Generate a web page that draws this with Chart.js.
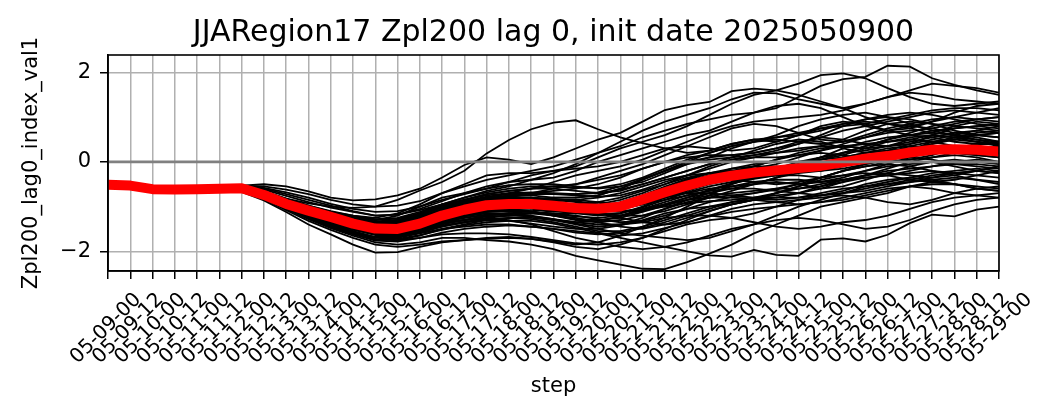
<!DOCTYPE html>
<html>
<head>
<meta charset="utf-8">
<script src="https://cdn.jsdelivr.net/npm/chart.js@4.4.1/dist/chart.umd.min.js"></script>
<style>
  html, body { margin: 0; padding: 0; background: #fff; }
  #wrap { width: 1057px; height: 420px; }
</style>
</head>
<body>
<div id="wrap"><canvas id="chart" width="1057" height="420" style="width:1057px;height:420px"></canvas></div>
<script>
const steps = ['05-09-00','05-09-12','05-10-00','05-10-12','05-11-00','05-11-12','05-12-00','05-12-12','05-13-00','05-13-12',
  '05-14-00','05-14-12','05-15-00','05-15-12','05-16-00','05-16-12','05-17-00','05-17-12','05-18-00','05-18-12',
  '05-19-00','05-19-12','05-20-00','05-20-12','05-21-00','05-21-12','05-22-00','05-22-12','05-23-00','05-23-12',
  '05-24-00','05-24-12','05-25-00','05-25-12','05-26-00','05-26-12','05-27-00','05-27-12','05-28-00','05-28-12','05-29-00'];
const yTickValues = [-2, 0, 2];
const zeroLevel = 0;

// ensemble mean (red)
const ensembleMean = [-0.51,-0.53,-0.61,-0.62,-0.61,-0.6,-0.59,-0.74,-0.94,-1.09,
  -1.23,-1.38,-1.49,-1.5,-1.38,-1.2,-1.07,-0.97,-0.94,-0.94,
  -0.98,-1.03,-1.05,-1.0,-0.84,-0.68,-0.53,-0.4,-0.31,-0.24,
  -0.19,-0.14,-0.09,-0.01,0.07,0.13,0.21,0.27,0.28,0.27,0.23];

// ensemble members (black)
const ensembleMembers = [
  [-0.51,-0.52,-0.59,-0.59,-0.57,-0.55,-0.54,-0.66,-0.82,-0.93,-1.0,-1.03,-1.0,-0.85,-0.64,-0.45,-0.2,0.19,0.49,0.73,0.88,0.93,0.73,0.55,0.42,0.3,0.2,0.25,0.4,0.5,0.45,0.6,0.8,0.9,0.85,0.7,0.6,0.65,0.8,0.9,0.85],
  [-0.51,-0.52,-0.58,-0.57,-0.55,-0.53,-0.53,-0.5,-0.55,-0.66,-0.8,-0.86,-0.84,-0.75,-0.6,-0.35,-0.07,0.1,0.05,-0.05,0.1,0.3,0.5,0.65,0.9,1.16,1.27,1.34,1.58,1.64,1.6,1.5,1.35,1.2,1.0,0.85,0.8,0.9,1.0,1.1,1.2],
  [-0.51,-0.53,-0.61,-0.61,-0.6,-0.58,-0.57,-0.7,-0.88,-1.02,-1.12,-1.2,-1.25,-1.15,-0.95,-0.7,-0.55,-0.4,-0.3,-0.2,-0.1,0.05,0.2,0.35,0.55,0.7,0.85,0.95,1.05,1.1,1.2,1.45,1.7,1.85,1.9,2.15,2.13,1.87,1.72,1.6,1.5],
  [-0.51,-0.53,-0.6,-0.62,-0.61,-0.6,-0.58,-0.72,-0.9,-1.05,-1.15,-1.25,-1.3,-1.2,-1.0,-0.8,-0.7,-0.6,-0.45,-0.3,-0.2,-0.1,0.1,0.3,0.45,0.6,0.8,1.05,1.3,1.5,1.6,1.75,1.94,1.98,1.87,1.65,1.45,1.3,1.25,1.3,1.35],
  [-0.51,-0.52,-0.6,-0.61,-0.6,-0.59,-0.58,-0.72,-0.9,-1.05,-1.18,-1.28,-1.35,-1.3,-1.15,-0.95,-0.8,-0.65,-0.55,-0.4,-0.25,-0.05,0.2,0.45,0.7,0.9,1.05,1.2,1.4,1.55,1.53,1.4,1.3,1.2,1.3,1.45,1.6,1.75,1.7,1.65,1.55],
  [-0.51,-0.53,-0.61,-0.62,-0.6,-0.57,-0.55,-0.6,-0.72,-0.85,-0.98,-1.1,-1.2,-1.18,-1.05,-0.88,-0.7,-0.55,-0.45,-0.4,-0.35,-0.2,0.0,0.15,0.3,0.45,0.6,0.7,0.9,1.1,1.25,1.3,1.2,1.0,0.8,0.7,0.75,0.9,1.1,1.25,1.3],
  [-0.51,-0.54,-0.63,-0.65,-0.66,-0.66,-0.67,-0.86,-1.12,-1.4,-1.62,-1.85,-2.03,-2.02,-1.9,-1.8,-1.75,-1.7,-1.68,-1.72,-1.8,-1.9,-1.95,-1.85,-1.7,-1.5,-1.3,-1.1,-0.95,-0.85,-0.7,-0.6,-0.5,-0.4,-0.35,-0.3,-0.25,-0.2,-0.3,-0.4,-0.5],
  [-0.51,-0.54,-0.62,-0.64,-0.64,-0.64,-0.64,-0.82,-1.05,-1.28,-1.48,-1.65,-1.8,-1.85,-1.8,-1.7,-1.7,-1.75,-1.78,-1.85,-1.95,-2.1,-2.2,-2.3,-2.39,-2.4,-2.24,-2.05,-1.85,-1.6,-1.4,-1.2,-1.0,-0.9,-0.8,-0.7,-0.55,-0.45,-0.5,-0.6,-0.65],
  [-0.51,-0.53,-0.62,-0.63,-0.63,-0.62,-0.62,-0.79,-1.02,-1.22,-1.4,-1.55,-1.68,-1.7,-1.6,-1.5,-1.45,-1.4,-1.4,-1.45,-1.5,-1.55,-1.6,-1.7,-1.8,-1.9,-2.0,-2.09,-2.12,-1.97,-2.08,-2.1,-1.74,-1.71,-1.78,-1.63,-1.37,-1.18,-1.22,-1.07,-1.0],
  [-0.51,-0.53,-0.62,-0.63,-0.62,-0.61,-0.61,-0.78,-1.0,-1.2,-1.36,-1.5,-1.62,-1.62,-1.5,-1.35,-1.3,-1.25,-1.3,-1.4,-1.55,-1.7,-1.8,-1.9,-1.95,-1.9,-1.8,-1.65,-1.5,-1.4,-1.3,-1.25,-1.3,-1.4,-1.5,-1.45,-1.3,-1.1,-0.95,-0.85,-0.8],
  [-0.51,-0.53,-0.61,-0.62,-0.61,-0.6,-0.59,-0.74,-0.93,-1.1,-1.24,-1.37,-1.47,-1.45,-1.32,-1.15,-1.0,-0.85,-0.75,-0.7,-0.65,-0.6,-0.5,-0.35,-0.15,0.0,0.15,0.25,0.4,0.5,0.55,0.6,0.7,0.85,0.95,1.0,0.95,0.85,0.8,0.75,0.7],
  [-0.51,-0.52,-0.6,-0.61,-0.6,-0.59,-0.58,-0.72,-0.92,-1.08,-1.22,-1.35,-1.45,-1.48,-1.4,-1.28,-1.2,-1.1,-1.05,-1.05,-1.1,-1.15,-1.2,-1.15,-1.0,-0.8,-0.6,-0.45,-0.35,-0.3,-0.2,-0.05,0.1,0.2,0.25,0.35,0.5,0.6,0.55,0.45,0.4],
  [-0.51,-0.53,-0.61,-0.62,-0.62,-0.61,-0.6,-0.76,-0.97,-1.15,-1.32,-1.46,-1.58,-1.6,-1.5,-1.32,-1.2,-1.05,-0.95,-0.9,-0.85,-0.85,-0.9,-0.95,-0.9,-0.8,-0.7,-0.6,-0.55,-0.5,-0.45,-0.5,-0.6,-0.55,-0.4,-0.25,-0.1,0.0,0.05,0.0,-0.05],
  [-0.51,-0.53,-0.61,-0.62,-0.61,-0.6,-0.6,-0.75,-0.95,-1.12,-1.28,-1.42,-1.55,-1.55,-1.42,-1.25,-1.12,-1.0,-0.92,-0.85,-0.8,-0.8,-0.75,-0.6,-0.4,-0.2,0.0,0.1,0.15,0.2,0.3,0.45,0.55,0.5,0.4,0.35,0.4,0.5,0.6,0.55,0.45],
  [-0.51,-0.53,-0.62,-0.63,-0.62,-0.61,-0.61,-0.77,-0.98,-1.16,-1.32,-1.45,-1.55,-1.52,-1.4,-1.25,-1.15,-1.05,-1.05,-1.1,-1.2,-1.3,-1.35,-1.3,-1.2,-1.05,-0.9,-0.8,-0.75,-0.7,-0.6,-0.5,-0.45,-0.35,-0.2,-0.1,-0.05,0.0,-0.1,-0.2,-0.25],
  [-0.51,-0.52,-0.6,-0.6,-0.59,-0.56,-0.54,-0.62,-0.76,-0.9,-1.02,-1.12,-1.2,-1.18,-1.08,-0.95,-0.85,-0.72,-0.65,-0.6,-0.6,-0.65,-0.7,-0.65,-0.5,-0.35,-0.2,-0.05,0.1,0.25,0.4,0.5,0.45,0.3,0.2,0.25,0.4,0.6,0.75,0.8,0.75],
  [-0.51,-0.53,-0.62,-0.63,-0.63,-0.62,-0.62,-0.78,-1.0,-1.18,-1.35,-1.5,-1.62,-1.65,-1.55,-1.4,-1.3,-1.2,-1.15,-1.15,-1.2,-1.25,-1.35,-1.45,-1.5,-1.4,-1.25,-1.1,-0.95,-0.85,-0.8,-0.8,-0.75,-0.65,-0.5,-0.4,-0.35,-0.4,-0.5,-0.6,-0.65],
  [-0.51,-0.53,-0.61,-0.62,-0.6,-0.59,-0.58,-0.73,-0.92,-1.08,-1.22,-1.34,-1.44,-1.42,-1.3,-1.12,-0.98,-0.85,-0.8,-0.8,-0.85,-0.9,-0.95,-0.85,-0.7,-0.5,-0.3,-0.1,0.05,0.15,0.2,0.25,0.35,0.5,0.7,0.85,0.9,0.85,0.7,0.6,0.55],
  [-0.51,-0.54,-0.63,-0.64,-0.64,-0.63,-0.63,-0.8,-1.04,-1.25,-1.44,-1.6,-1.74,-1.75,-1.65,-1.5,-1.4,-1.3,-1.25,-1.25,-1.3,-1.4,-1.5,-1.6,-1.65,-1.7,-1.75,-1.7,-1.55,-1.4,-1.2,-1.0,-0.85,-0.7,-0.55,-0.45,-0.35,-0.25,-0.2,-0.15,-0.2],
  [-0.51,-0.53,-0.61,-0.61,-0.6,-0.57,-0.55,-0.58,-0.68,-0.8,-0.94,-1.05,-1.12,-1.1,-1.0,-0.85,-0.72,-0.6,-0.52,-0.5,-0.5,-0.55,-0.6,-0.55,-0.45,-0.25,-0.05,0.1,0.3,0.45,0.6,0.8,0.95,1.05,1.1,1.0,0.85,0.7,0.6,0.5,0.4],
  [-0.51,-0.53,-0.62,-0.63,-0.62,-0.62,-0.61,-0.77,-0.98,-1.15,-1.3,-1.43,-1.53,-1.52,-1.42,-1.28,-1.2,-1.12,-1.1,-1.12,-1.18,-1.22,-1.25,-1.2,-1.05,-0.9,-0.75,-0.65,-0.6,-0.6,-0.65,-0.7,-0.75,-0.7,-0.6,-0.5,-0.45,-0.35,-0.25,-0.2,-0.25],
  [-0.51,-0.53,-0.61,-0.62,-0.61,-0.6,-0.59,-0.74,-0.95,-1.12,-1.27,-1.4,-1.5,-1.5,-1.4,-1.25,-1.15,-1.05,-1.0,-0.95,-0.95,-0.95,-0.9,-0.8,-0.65,-0.5,-0.35,-0.25,-0.2,-0.1,0.05,0.2,0.3,0.35,0.3,0.2,0.15,0.2,0.3,0.35,0.3],
  [-0.51,-0.53,-0.62,-0.62,-0.61,-0.61,-0.6,-0.75,-0.95,-1.13,-1.29,-1.43,-1.55,-1.58,-1.5,-1.38,-1.3,-1.2,-1.15,-1.1,-1.05,-1.0,-1.0,-0.95,-0.85,-0.7,-0.55,-0.45,-0.4,-0.45,-0.5,-0.45,-0.35,-0.2,-0.05,0.05,0.1,0.05,-0.05,-0.1,-0.15],
  [-0.51,-0.52,-0.6,-0.61,-0.6,-0.59,-0.58,-0.72,-0.91,-1.07,-1.2,-1.32,-1.42,-1.4,-1.28,-1.1,-0.95,-0.82,-0.75,-0.75,-0.8,-0.8,-0.75,-0.6,-0.4,-0.2,0.0,0.2,0.35,0.45,0.5,0.45,0.4,0.45,0.6,0.75,0.85,0.95,1.0,0.95,0.9],
  [-0.51,-0.54,-0.63,-0.64,-0.63,-0.63,-0.62,-0.79,-1.02,-1.22,-1.4,-1.56,-1.68,-1.68,-1.58,-1.44,-1.35,-1.28,-1.25,-1.28,-1.35,-1.45,-1.55,-1.55,-1.45,-1.3,-1.15,-1.0,-0.9,-0.85,-0.9,-0.95,-0.9,-0.8,-0.7,-0.6,-0.55,-0.6,-0.7,-0.75,-0.7],
  [-0.51,-0.53,-0.61,-0.62,-0.61,-0.6,-0.59,-0.74,-0.94,-1.1,-1.25,-1.38,-1.48,-1.46,-1.35,-1.2,-1.1,-0.98,-0.92,-0.9,-0.88,-0.85,-0.8,-0.7,-0.55,-0.4,-0.3,-0.25,-0.25,-0.3,-0.3,-0.2,-0.05,0.1,0.2,0.3,0.35,0.3,0.2,0.15,0.1],
  [-0.51,-0.53,-0.62,-0.63,-0.63,-0.62,-0.62,-0.78,-1.0,-1.19,-1.36,-1.51,-1.64,-1.66,-1.58,-1.45,-1.35,-1.25,-1.2,-1.15,-1.1,-1.1,-1.15,-1.2,-1.2,-1.1,-0.95,-0.8,-0.65,-0.5,-0.35,-0.25,-0.2,-0.15,-0.05,0.05,0.15,0.25,0.35,0.3,0.2],
  [-0.51,-0.53,-0.61,-0.61,-0.6,-0.59,-0.58,-0.72,-0.91,-1.06,-1.2,-1.32,-1.4,-1.37,-1.25,-1.08,-0.95,-0.85,-0.85,-0.9,-0.95,-1.05,-1.15,-1.2,-1.1,-0.95,-0.8,-0.7,-0.6,-0.5,-0.35,-0.2,-0.1,-0.05,0.0,0.1,0.25,0.45,0.55,0.6,0.55],
  [-0.51,-0.53,-0.62,-0.63,-0.62,-0.61,-0.61,-0.77,-0.99,-1.17,-1.33,-1.47,-1.58,-1.57,-1.45,-1.3,-1.18,-1.08,-1.02,-1.0,-1.02,-1.08,-1.15,-1.25,-1.35,-1.4,-1.35,-1.2,-1.05,-0.95,-0.9,-0.85,-0.8,-0.75,-0.8,-0.9,-0.95,-0.85,-0.7,-0.6,-0.55],
  [-0.51,-0.52,-0.6,-0.61,-0.6,-0.58,-0.57,-0.71,-0.89,-1.04,-1.17,-1.28,-1.36,-1.32,-1.18,-1.0,-0.85,-0.72,-0.65,-0.6,-0.55,-0.5,-0.4,-0.3,-0.15,0.0,0.1,0.15,0.15,0.2,0.3,0.4,0.55,0.7,0.8,0.9,1.0,1.1,1.15,1.1,1.05],
  [-0.51,-0.53,-0.62,-0.63,-0.62,-0.61,-0.6,-0.76,-0.97,-1.15,-1.31,-1.45,-1.56,-1.56,-1.46,-1.3,-1.2,-1.12,-1.1,-1.12,-1.15,-1.15,-1.1,-1.0,-0.85,-0.75,-0.7,-0.7,-0.75,-0.8,-0.8,-0.7,-0.55,-0.4,-0.3,-0.25,-0.3,-0.35,-0.3,-0.2,-0.1],
  [-0.51,-0.53,-0.61,-0.62,-0.61,-0.6,-0.6,-0.75,-0.95,-1.12,-1.28,-1.41,-1.52,-1.52,-1.42,-1.26,-1.15,-1.05,-1.0,-1.0,-1.05,-1.1,-1.1,-1.0,-0.85,-0.65,-0.45,-0.3,-0.15,-0.05,0.0,0.0,0.05,0.15,0.3,0.45,0.55,0.6,0.55,0.5,0.45],
  [-0.51,-0.54,-0.63,-0.65,-0.65,-0.65,-0.65,-0.83,-1.08,-1.32,-1.52,-1.7,-1.85,-1.9,-1.85,-1.78,-1.75,-1.72,-1.7,-1.72,-1.78,-1.85,-1.8,-1.65,-1.45,-1.25,-1.0,-0.75,-0.5,-0.3,-0.15,0.0,0.1,0.2,0.35,0.5,0.65,0.8,0.9,0.95,1.0],
  [-0.51,-0.52,-0.6,-0.61,-0.6,-0.59,-0.58,-0.73,-0.92,-1.08,-1.22,-1.33,-1.42,-1.38,-1.25,-1.05,-0.9,-0.8,-0.7,-0.6,-0.45,-0.3,-0.2,-0.1,0.05,0.25,0.45,0.65,0.8,0.9,0.95,1.0,1.05,1.15,1.3,1.45,1.55,1.5,1.4,1.35,1.3],
  [-0.51,-0.53,-0.62,-0.63,-0.62,-0.62,-0.61,-0.77,-0.99,-1.18,-1.34,-1.48,-1.6,-1.62,-1.52,-1.38,-1.3,-1.22,-1.2,-1.22,-1.28,-1.35,-1.4,-1.4,-1.35,-1.25,-1.2,-1.2,-1.25,-1.35,-1.45,-1.5,-1.45,-1.35,-1.3,-1.2,-1.05,-0.9,-0.8,-0.75,-0.8],
  [-0.51,-0.53,-0.61,-0.62,-0.61,-0.6,-0.59,-0.74,-0.93,-1.09,-1.23,-1.36,-1.46,-1.44,-1.32,-1.15,-1.02,-0.9,-0.8,-0.7,-0.6,-0.5,-0.35,-0.2,-0.05,0.15,0.35,0.55,0.75,0.85,0.8,0.65,0.5,0.45,0.55,0.7,0.8,0.75,0.65,0.6,0.65],
  [-0.51,-0.52,-0.59,-0.59,-0.57,-0.55,-0.53,-0.55,-0.62,-0.72,-0.85,-0.95,-1.0,-0.98,-0.88,-0.7,-0.5,-0.3,-0.25,-0.25,-0.2,-0.15,-0.1,0.0,0.15,0.3,0.35,0.3,0.25,0.3,0.45,0.6,0.75,0.85,0.9,0.85,0.75,0.65,0.6,0.7,0.8],
  [-0.51,-0.53,-0.62,-0.64,-0.64,-0.63,-0.63,-0.8,-1.03,-1.24,-1.42,-1.58,-1.72,-1.75,-1.7,-1.62,-1.6,-1.6,-1.62,-1.68,-1.75,-1.82,-1.85,-1.8,-1.7,-1.55,-1.4,-1.3,-1.25,-1.15,-1.0,-0.85,-0.75,-0.7,-0.65,-0.55,-0.45,-0.4,-0.35,-0.4,-0.45],
  [-0.51,-0.53,-0.61,-0.62,-0.6,-0.58,-0.56,-0.66,-0.82,-0.98,-1.12,-1.25,-1.35,-1.36,-1.28,-1.12,-0.98,-0.88,-0.82,-0.8,-0.82,-0.88,-0.95,-0.98,-0.92,-0.8,-0.65,-0.5,-0.4,-0.35,-0.3,-0.2,-0.05,0.1,0.2,0.25,0.3,0.4,0.5,0.6,0.65],
  [-0.51,-0.54,-0.63,-0.64,-0.64,-0.63,-0.63,-0.8,-1.02,-1.22,-1.38,-1.52,-1.62,-1.6,-1.48,-1.32,-1.22,-1.15,-1.15,-1.2,-1.28,-1.38,-1.45,-1.4,-1.25,-1.05,-0.85,-0.7,-0.55,-0.45,-0.4,-0.4,-0.45,-0.4,-0.3,-0.15,0.0,0.1,0.15,0.1,0.0],
  [-0.51,-0.52,-0.6,-0.61,-0.6,-0.59,-0.58,-0.71,-0.88,-1.02,-1.14,-1.25,-1.33,-1.3,-1.18,-1.02,-0.9,-0.8,-0.78,-0.8,-0.88,-0.98,-1.05,-1.05,-0.95,-0.78,-0.6,-0.42,-0.25,-0.1,0.05,0.15,0.2,0.15,0.05,0.0,0.05,0.15,0.3,0.4,0.45],
  [-0.51,-0.53,-0.62,-0.63,-0.63,-0.62,-0.62,-0.79,-1.01,-1.2,-1.37,-1.5,-1.6,-1.62,-1.55,-1.42,-1.35,-1.3,-1.32,-1.38,-1.45,-1.5,-1.5,-1.42,-1.3,-1.15,-1.05,-1.0,-0.95,-0.85,-0.7,-0.55,-0.4,-0.3,-0.25,-0.3,-0.4,-0.45,-0.4,-0.3,-0.2],
  [-0.51,-0.53,-0.61,-0.62,-0.61,-0.6,-0.6,-0.75,-0.95,-1.11,-1.26,-1.38,-1.48,-1.46,-1.34,-1.16,-1.02,-0.92,-0.88,-0.9,-0.95,-1.0,-1.02,-0.95,-0.8,-0.6,-0.4,-0.25,-0.15,-0.1,-0.1,-0.15,-0.2,-0.1,0.05,0.2,0.35,0.45,0.5,0.45,0.35],
  [-0.51,-0.52,-0.6,-0.6,-0.59,-0.58,-0.57,-0.7,-0.87,-1.0,-1.12,-1.22,-1.3,-1.27,-1.15,-0.98,-0.85,-0.75,-0.7,-0.68,-0.7,-0.72,-0.7,-0.62,-0.5,-0.35,-0.2,-0.05,0.05,0.1,0.1,0.15,0.25,0.4,0.55,0.65,0.7,0.75,0.85,0.95,1.0],
  [-0.51,-0.53,-0.62,-0.63,-0.62,-0.61,-0.61,-0.77,-0.98,-1.16,-1.32,-1.46,-1.57,-1.58,-1.48,-1.33,-1.22,-1.12,-1.05,-1.02,-1.02,-1.05,-1.1,-1.12,-1.08,-1.0,-0.92,-0.88,-0.85,-0.8,-0.7,-0.55,-0.35,-0.2,-0.1,-0.05,-0.1,-0.2,-0.25,-0.2,-0.1],
  [-0.51,-0.53,-0.61,-0.61,-0.6,-0.59,-0.58,-0.72,-0.9,-1.05,-1.19,-1.3,-1.39,-1.37,-1.25,-1.08,-0.95,-0.85,-0.82,-0.85,-0.92,-0.98,-1.0,-0.92,-0.75,-0.55,-0.38,-0.25,-0.2,-0.2,-0.15,-0.05,0.1,0.3,0.45,0.55,0.6,0.55,0.45,0.4,0.4],
  [-0.51,-0.54,-0.63,-0.64,-0.64,-0.64,-0.64,-0.81,-1.05,-1.27,-1.46,-1.62,-1.76,-1.78,-1.7,-1.58,-1.5,-1.45,-1.42,-1.45,-1.5,-1.58,-1.62,-1.58,-1.48,-1.35,-1.2,-1.05,-0.9,-0.8,-0.75,-0.7,-0.6,-0.45,-0.3,-0.2,-0.15,-0.1,0.0,0.05,0.0],
  [-0.51,-0.53,-0.61,-0.62,-0.61,-0.6,-0.59,-0.73,-0.92,-1.07,-1.2,-1.32,-1.42,-1.42,-1.32,-1.15,-1.03,-0.93,-0.9,-0.92,-0.98,-1.05,-1.08,-1.05,-0.95,-0.85,-0.75,-0.65,-0.5,-0.35,-0.2,-0.05,0.05,0.1,0.1,0.15,0.25,0.4,0.55,0.65,0.7],
  [-0.51,-0.53,-0.62,-0.63,-0.62,-0.61,-0.61,-0.76,-0.97,-1.14,-1.3,-1.43,-1.54,-1.55,-1.46,-1.3,-1.18,-1.1,-1.08,-1.12,-1.2,-1.28,-1.3,-1.25,-1.12,-0.98,-0.85,-0.75,-0.7,-0.65,-0.6,-0.6,-0.55,-0.45,-0.35,-0.3,-0.2,-0.1,-0.05,-0.05,-0.1],
  [-0.51,-0.52,-0.6,-0.61,-0.6,-0.58,-0.57,-0.7,-0.88,-1.03,-1.16,-1.27,-1.35,-1.33,-1.2,-1.02,-0.88,-0.78,-0.72,-0.7,-0.72,-0.75,-0.78,-0.75,-0.62,-0.45,-0.3,-0.15,0.0,0.1,0.2,0.3,0.35,0.35,0.3,0.35,0.45,0.55,0.65,0.7,0.65],
  [-0.51,-0.53,-0.62,-0.63,-0.62,-0.62,-0.61,-0.77,-0.99,-1.17,-1.33,-1.47,-1.58,-1.58,-1.48,-1.34,-1.25,-1.18,-1.15,-1.15,-1.15,-1.2,-1.28,-1.35,-1.32,-1.2,-1.05,-0.9,-0.78,-0.7,-0.62,-0.5,-0.35,-0.2,-0.1,0.0,0.05,0.1,0.2,0.3,0.35],
  [-0.51,-0.53,-0.61,-0.62,-0.61,-0.6,-0.59,-0.74,-0.93,-1.09,-1.24,-1.36,-1.46,-1.45,-1.35,-1.2,-1.08,-0.98,-0.95,-0.95,-1.0,-1.02,-1.0,-0.9,-0.75,-0.58,-0.42,-0.3,-0.2,-0.15,-0.05,0.1,0.25,0.35,0.4,0.45,0.5,0.45,0.35,0.25,0.2],
  [-0.51,-0.53,-0.62,-0.63,-0.63,-0.63,-0.62,-0.78,-1.0,-1.19,-1.35,-1.49,-1.6,-1.6,-1.5,-1.35,-1.25,-1.18,-1.18,-1.22,-1.3,-1.35,-1.32,-1.22,-1.08,-0.95,-0.85,-0.8,-0.8,-0.82,-0.85,-0.8,-0.7,-0.6,-0.55,-0.5,-0.4,-0.3,-0.25,-0.3,-0.35],
  [-0.51,-0.52,-0.6,-0.6,-0.59,-0.57,-0.56,-0.68,-0.84,-0.98,-1.1,-1.2,-1.28,-1.25,-1.12,-0.95,-0.8,-0.68,-0.6,-0.55,-0.55,-0.58,-0.58,-0.5,-0.35,-0.15,0.05,0.2,0.35,0.45,0.55,0.65,0.75,0.8,0.85,0.95,1.05,1.15,1.2,1.2,1.15],
  [-0.51,-0.53,-0.62,-0.63,-0.62,-0.61,-0.6,-0.76,-0.96,-1.13,-1.29,-1.42,-1.52,-1.52,-1.42,-1.26,-1.14,-1.04,-0.98,-0.96,-0.98,-1.02,-1.08,-1.1,-1.05,-0.95,-0.8,-0.62,-0.48,-0.38,-0.3,-0.3,-0.35,-0.3,-0.2,-0.05,0.1,0.2,0.2,0.15,0.1],
  [-0.51,-0.53,-0.61,-0.62,-0.61,-0.6,-0.6,-0.75,-0.94,-1.1,-1.25,-1.37,-1.47,-1.47,-1.37,-1.22,-1.1,-1.0,-0.98,-1.0,-1.05,-1.12,-1.18,-1.15,-1.02,-0.85,-0.68,-0.55,-0.45,-0.35,-0.25,-0.1,0.05,0.2,0.35,0.5,0.6,0.7,0.75,0.8,0.85],
  [-0.51,-0.54,-0.63,-0.64,-0.64,-0.63,-0.63,-0.8,-1.03,-1.24,-1.42,-1.58,-1.7,-1.72,-1.64,-1.52,-1.42,-1.35,-1.32,-1.32,-1.38,-1.48,-1.58,-1.65,-1.6,-1.48,-1.35,-1.22,-1.12,-1.05,-1.0,-0.95,-0.9,-0.85,-0.75,-0.65,-0.55,-0.5,-0.5,-0.55,-0.6],
  [-0.51,-0.52,-0.6,-0.61,-0.6,-0.59,-0.58,-0.71,-0.89,-1.04,-1.17,-1.29,-1.38,-1.35,-1.22,-1.05,-0.92,-0.82,-0.75,-0.72,-0.72,-0.72,-0.68,-0.55,-0.38,-0.2,-0.05,0.05,0.1,0.15,0.25,0.4,0.6,0.8,0.95,1.05,1.1,1.05,0.95,0.85,0.8]
];

const fontFamily = "'DejaVu Sans', sans-serif";
Chart.defaults.font.family = fontFamily;
Chart.defaults.color = '#000';

let datasets = [];
// horizontal reference line at zero, drawn on top
datasets.push({
  label: 'zero', data: steps.map(() => zeroLevel),
  borderColor: '#808080', borderWidth: 2.6, pointRadius: 0, order: 0, clip: 0
});
datasets.push({
  label: 'mean', data: ensembleMean,
  borderColor: '#ff0000', borderWidth: 10, pointRadius: 0, order: 1, clip: 0,
  borderJoinStyle: 'round'
});
ensembleMembers.forEach((member, k) => {
  datasets.push({
    label: 'member' + k, data: member,
    borderColor: '#000000', borderWidth: 1.8, pointRadius: 0, order: 2, clip: 0
  });
});

// box around the plot area (top and right spines too)
const frame = {
  id: 'frame',
  afterLayout(chart) {
    // centre the title over the plot area, not the whole canvas
    const t = chart.titleBlock;
    if (t) {
      t.left = chart.chartArea.left;
      t.right = chart.chartArea.right;
      t.width = t.right - t.left;
    }
  },
  afterDraw(chart) {
    const a = chart.chartArea;
    const ctx = chart.ctx;
    ctx.save();
    ctx.strokeStyle = '#000';
    ctx.lineWidth = 1.6;
    ctx.strokeRect(a.left, a.top, a.right - a.left, a.bottom - a.top);
    ctx.restore();
  }
};

new Chart(document.getElementById('chart'), {
  type: 'line',
  data: { labels: steps, datasets: datasets },
  options: {
    responsive: false,
    animation: false,
    events: [],
    layout: { padding: { left: 0, right: 58, top: 0, bottom: 0 } },
    elements: { line: { tension: 0 } },
    plugins: {
      legend: { display: false },
      tooltip: { enabled: false },
      title: {
        display: true,
        text: 'JJARegion17 Zpl200 lag 0, init date 2025050900',
        color: '#000',
        font: { family: fontFamily, size: 30, weight: 'normal' },
        padding: { top: 15, bottom: 4 }
      }
    },
    scales: {
      x: {
        type: 'category',
        offset: false,
        grid: { color: '#b0b0b0', lineWidth: 1.5, tickColor: '#000', tickLength: 8, tickWidth: 1.5 },
        border: { color: '#000', width: 1.6 },
        ticks: {
          autoSkip: false, maxRotation: 45, minRotation: 45,
          labelOffset: 30, padding: 9,
          color: '#000', font: { family: fontFamily, size: 20 }
        },
        title: {
          display: true, text: 'step', color: '#000',
          font: { family: fontFamily, size: 21 },
          padding: { top: 0, bottom: 21 }
        },
        afterFit: (s) => { s.height = 149; }
      },
      y: {
        min: -2.44,
        max: 2.39,
        afterBuildTicks: (s) => { s.ticks = yTickValues.map(v => ({ value: v })); },
        grid: { color: '#b0b0b0', lineWidth: 1.5, tickColor: '#000', tickLength: 8, tickWidth: 1.5 },
        border: { color: '#000', width: 1.6 },
        ticks: {
          padding: 9, color: '#000',
          font: { family: fontFamily, size: 21 },
          callback: (v) => (v < 0 ? '\u2212' + Math.abs(v) : String(v))
        },
        title: {
          display: true, text: 'Zpl200_lag0_index_val1', color: '#000',
          font: { family: fontFamily, size: 21 },
          padding: { top: 19, bottom: 0 }
        },
        afterFit: (s) => { s.width = 108; }
      }
    }
  },
  plugins: [frame]
});
</script>
</body>
</html>
